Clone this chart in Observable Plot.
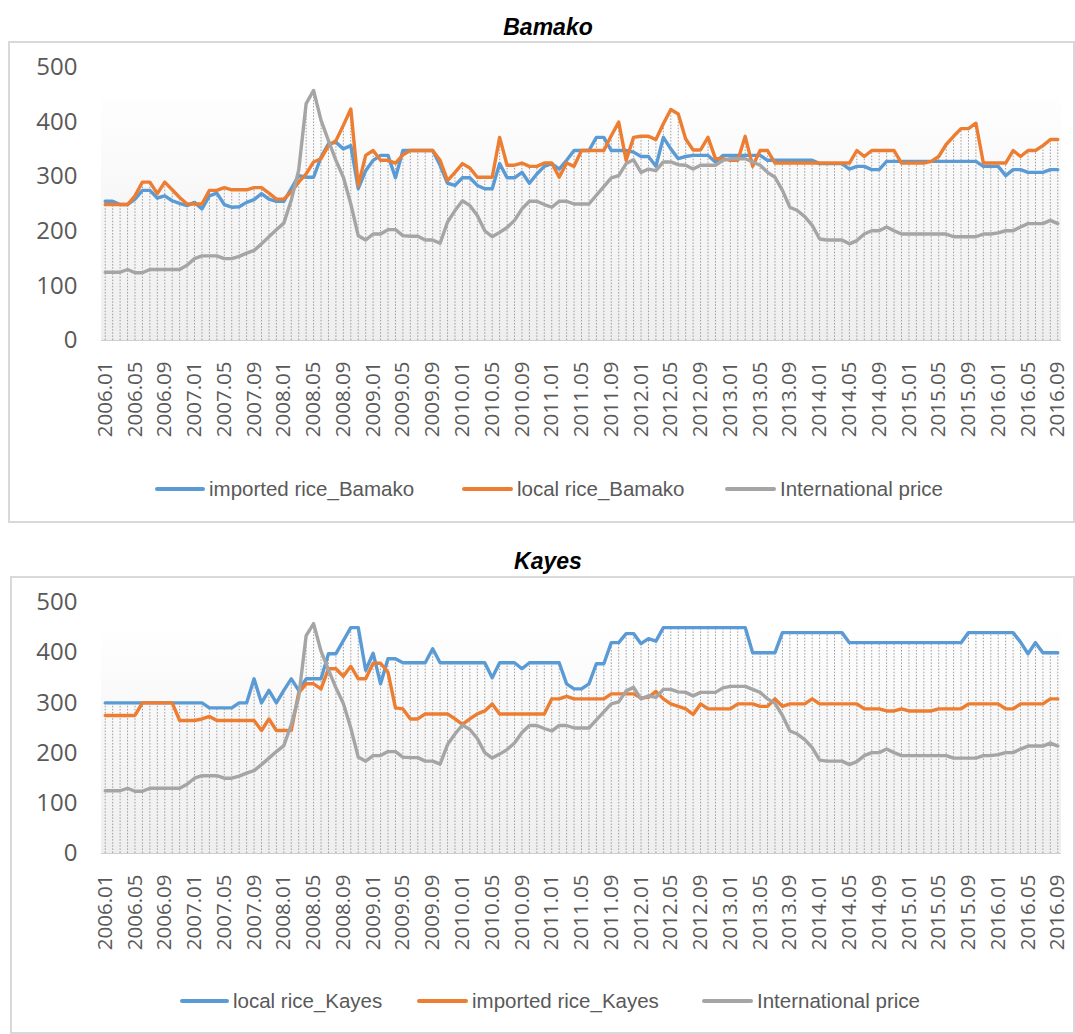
<!DOCTYPE html>
<html><head><meta charset="utf-8">
<script src="https://cdn.jsdelivr.net/npm/d3@7"></script>
<script src="https://cdn.jsdelivr.net/npm/@observablehq/plot@0.6"></script>
<style>
body{margin:0;background:#fff;}
#page{position:relative;width:1075px;height:1034px;overflow:hidden;background:#fff;font-family:"Open Sans",sans-serif;}
.box{position:absolute;border:2px solid #d9d9d9;box-sizing:border-box;}
.title{position:absolute;left:0;width:1096px;text-align:center;font:bold italic 23px "Liberation Sans",Arial,sans-serif;color:#000;line-height:26px;}
.grad{position:absolute;background:linear-gradient(#fefefe,#eeeeee);}
.plotwrap{position:absolute;left:0;}
.lg{position:absolute;height:4px;border-radius:2px;}
.lt{position:absolute;font-family:"Liberation Sans",sans-serif;font-size:20.5px;color:#595959;white-space:nowrap;line-height:24px;}
</style></head>
<body><div id="page"></div>
<script>
// ---- data (monthly, 2006.01 .. 2016.09) ----
const years = [2006,2007,2008,2009,2010,2011,2012,2013,2014,2015,2016];
const months = [];
for (const y of years) for (let m = 1; m <= 12; m++) { if (y === 2016 && m > 9) break; months.push(y + "." + String(m).padStart(2, "0")); }
const tickLabels = ["2006.01","2006.05","2006.09","2007.01","2007.05","2007.09","2008.01","2008.05","2008.09","2009.01","2009.05","2009.09","2010.01","2010.05","2010.09","2011.01","2011.05","2011.09","2012.01","2012.05","2012.09","2013.01","2013.05","2013.09","2014.01","2014.05","2014.09","2015.01","2015.05","2015.09","2016.01","2016.05","2016.09"];

const internationalPrice = [
125,125,125,130,124,124,130,130,130,130,
130,138,150,155,155,155,150,150,154,160,
165,177,190,203,215,257,312,434,458,403,
366,330,299,250,192,184,195,195,203,203,
192,191,191,184,184,178,217,238,256,247,
229,201,190,198,207,220,241,255,255,249,
244,255,255,250,250,250,266,282,298,302,
324,331,308,314,311,327,327,322,321,314,
321,321,321,330,333,333,333,327,321,308,
299,275,244,238,227,211,186,184,184,184,
177,183,195,201,201,208,201,195,195,195,
195,195,195,195,190,190,190,190,195,195,
197,201,201,208,214,214,214,220,214];

const importedRiceBamako = [
255,255,249,249,259,275,275,261,265,256,
251,247,253,241,265,270,249,244,245,253,
258,269,259,255,255,278,302,299,299,336,
360,363,351,357,278,311,330,339,339,298,
348,348,348,348,348,321,288,284,298,298,
284,278,278,324,298,298,308,288,305,319,
324,314,330,348,348,348,372,372,348,348,
348,345,337,337,319,372,351,333,337,339,
339,339,327,339,339,339,339,339,339,330,
330,330,330,330,330,330,324,324,324,324,
314,319,319,313,313,328,328,328,328,328,
328,328,328,328,328,328,328,328,319,319,
319,302,313,313,308,308,308,313,313];

const localRiceBamako = [
249,249,249,249,265,290,290,269,290,276,
262,250,250,250,275,275,280,276,276,276,
280,280,270,259,259,272,290,305,327,333,
357,366,394,424,284,339,348,330,330,325,
340,348,348,348,348,330,293,308,324,316,
299,299,299,372,321,321,325,319,319,325,
325,299,325,319,348,348,348,348,375,400,
330,372,374,374,368,397,423,415,369,349,
349,372,333,333,330,330,374,319,348,348,
325,325,325,325,325,325,325,325,325,325,
325,348,337,348,348,348,348,325,325,325,
325,328,337,359,374,388,388,398,325,325,
325,325,348,337,348,348,357,368,368];

const localRiceKayes = [
300,300,300,300,300,300,300,300,300,300,
300,300,300,300,290,290,290,290,300,300,
348,300,325,300,325,348,325,348,348,348,
398,398,424,450,450,365,399,338,388,388,
380,380,380,380,408,380,380,380,380,380,
380,380,350,380,380,380,368,380,380,380,
380,380,338,328,328,338,378,378,420,420,
438,438,418,428,423,450,450,450,450,450,
450,450,450,450,450,450,450,400,400,400,
400,440,440,440,440,440,440,440,440,440,
420,420,420,420,420,420,420,420,420,420,
420,420,420,420,420,420,440,440,440,440,
440,440,440,421,398,420,400,400,400];

const importedRiceKayes = [
275,275,275,275,275,300,300,300,300,300,
265,265,265,268,273,265,265,265,265,265,
265,245,268,245,245,245,320,338,338,328,
368,368,353,373,348,348,379,379,361,290,
288,268,268,278,278,278,278,268,257,268,
278,284,298,278,278,278,278,278,278,278,
308,308,313,308,308,308,308,308,318,318,
318,318,310,311,323,308,298,293,288,277,
298,288,288,288,288,298,298,298,293,293,
308,293,298,298,298,308,298,298,298,298,
298,298,288,288,288,284,284,288,284,284,
284,284,288,288,288,288,298,298,298,298,
298,288,288,298,298,298,298,308,308];

const yTicks = [0,100,200,300,400,500];
const colors = {blue:"#5b9bd5", orange:"#ed7d31", grey:"#a5a5a5"};

const panels = [
  {title:"Bamako", titleTop:14, box:[8,41,1075,523], svgTop:0, y0:340, grad:[101,98,1061,340],
   series:[{name:"imported rice_Bamako", values:importedRiceBamako, color:colors.blue},
           {name:"local rice_Bamako", values:localRiceBamako, color:colors.orange},
           {name:"International price", values:internationalPrice, color:colors.grey}],
   legendY:489, legend:[[155,209],[462,517],[725,780]]},
  {title:"Kayes", titleTop:548, box:[10,576,1075,1034], svgTop:535, y0:853, grad:[101,632,1061,853],
   series:[{name:"local rice_Kayes", values:localRiceKayes, color:colors.blue},
           {name:"imported rice_Kayes", values:importedRiceKayes, color:colors.orange},
           {name:"International price", values:internationalPrice, color:colors.grey}],
   legendY:1001, legend:[[180,233],[417,472],[702,757]]}
];

const page = document.getElementById("page");
for (const p of panels) {
  const box = document.createElement("div");
  box.className = "box";
  Object.assign(box.style, {left:p.box[0]+"px", top:p.box[1]+"px", width:(p.box[2]-p.box[0])+"px", height:(p.box[3]-p.box[1])+"px"});
  page.appendChild(box);
  const t = document.createElement("div");
  t.className = "title"; t.textContent = p.title; t.style.top = p.titleTop + "px";
  page.appendChild(t);
  const g = document.createElement("div");
  g.className = "grad";
  Object.assign(g.style, {left:p.grad[0]+"px", top:p.grad[1]+"px", width:(p.grad[2]-p.grad[0])+"px", height:(p.grad[3]-p.grad[1])+"px"});
  page.appendChild(g);

  const rows = [];
  p.series.forEach((s, k) => s.values.forEach((v, i) => rows.push({m: months[i], v, s: s.name, k})));
  const drops = months.map((m, i) => ({m, top: d3.max(p.series, s => s.values[i])}));
  const marginTop = 67;
  const plotBottom = p.y0 - p.svgTop;
  const height = plotBottom + 115;

  const chart = Plot.plot({
    width: 1075, height,
    marginLeft: 101, marginRight: 14, marginTop, marginBottom: height - plotBottom,
    style: {background: "transparent", fontFamily: "'Open Sans', sans-serif", color: "#595959"},
    x: {type: "point", domain: months, padding: 0.5},
    y: {domain: [0, 500]},
    marks: [
      Plot.ruleX(drops, {x: "m", y1: 0, y2: "top", stroke: "#9c9c9c", strokeWidth: 1, strokeDasharray: "1.5,1.6"}),
      Plot.ruleY([0], {stroke: "#d0d0d0", strokeWidth: 1}),
      ...p.series.map(s => Plot.line(rows.filter(r => r.s === s.name), {x: "m", y: "v", stroke: s.color, strokeWidth: 3.4, strokeLinejoin: "round", strokeLinecap: "round"})),
      Plot.axisY({ticks: yTicks, tickSize: 0, tickPadding: 24, fontSize: 24, fill: "#595959", label: null}),
      Plot.axisX({ticks: tickLabels, tickSize: 0, tickPadding: 21, tickRotate: -90, fontSize: 20.5, fill: "#595959", label: null})
    ]
  });
  const wrap = document.createElement("div");
  wrap.className = "plotwrap"; wrap.style.top = p.svgTop + "px";
  wrap.appendChild(chart);
  page.appendChild(wrap);

  p.series.forEach((s, k) => {
    const [lx, tx] = p.legend[k];
    const l = document.createElement("div");
    l.className = "lg";
    Object.assign(l.style, {left: lx + "px", width: (tx - lx - 4) + "px", top: (p.legendY - 2) + "px", background: s.color});
    page.appendChild(l);
    const tt = document.createElement("div");
    tt.className = "lt"; tt.textContent = s.name;
    Object.assign(tt.style, {left: tx + "px", top: (p.legendY - 12) + "px"});
    page.appendChild(tt);
  });
}
</script></body></html>
